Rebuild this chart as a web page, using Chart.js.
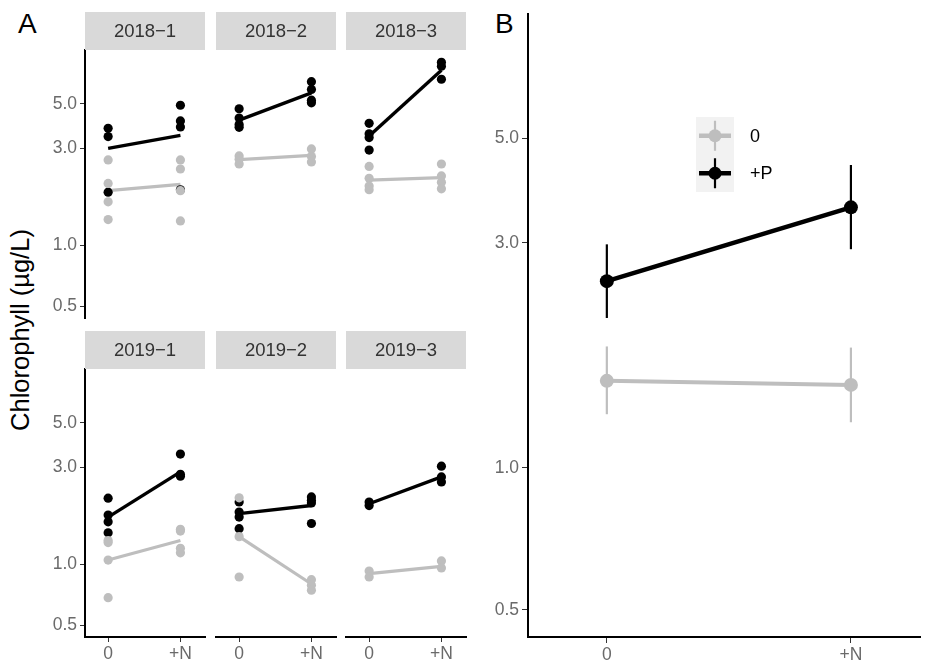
<!DOCTYPE html>
<html>
<head>
<meta charset="utf-8">
<script src="https://cdn.jsdelivr.net/npm/chart.js@4.4.1/dist/chart.umd.min.js"></script>
<style>
  html, body { margin: 0; padding: 0; background: #fff; }
  #wrap { position: relative; width: 927px; height: 663px; overflow: hidden;
          font-family: "Liberation Sans", Arial, sans-serif; }
  #wrap canvas { position: absolute; left: 0; top: 0; }
  .tag { position: absolute; font-size: 28px; line-height: 1; color: #000; }
  #ytitle { position: absolute; left: -180px; top: 315px; width: 400px; height: 30px;
            line-height: 30px; text-align: center; font-size: 25.5px; color: #000;
            transform: rotate(-90deg); }
</style>
</head>
<body>
<div id="wrap">
  <div class="tag" style="left:18px; top:10px;">A</div>
  <div class="tag" style="left:495px; top:10px;">B</div>
  <div id="ytitle">Chlorophyll (µg/L)</div>
</div>
<script>
// ---- data -------------------------------------------------------------
const facets   = ['2018−1', '2018−2', '2018−3', '2019−1', '2019−2', '2019−3'];
const nLevels  = ['0', '+N'];
const yTicks   = [0.5, 1, 3, 5];
const yTickLabels = ['0.5', '1.0', '3.0', '5.0'];

// replicate values per facet: [values at 0, values at +N]
const ctrlPts = [
  [[2.64, 2.02, 1.64, 1.34], [2.64, 2.38, 1.86, 1.32]],
  [[2.76, 2.66, 2.52],       [2.99, 2.74, 2.58]],
  [[2.45, 2.14, 1.96, 1.88], [2.52, 2.20, 2.05, 1.90]],
  [[1.31, 1.28, 1.05, 0.685],[1.49, 1.46, 1.20, 1.14]],
  [[2.13, 1.37, 0.866],      [0.84, 0.788, 0.745]],
  [[0.927, 0.866],           [1.04, 0.96]]
];
const plusPPts = [
  [[3.78, 3.44, 1.83],       [4.91, 4.11, 3.84, 1.88]],
  [[4.72, 4.25, 3.95, 3.82], [6.42, 5.88, 5.20, 5.05]],
  [[4.00, 3.55, 3.40, 2.95], [8.00, 7.65, 6.60]],
  [[2.12, 1.75, 1.62, 1.43], [3.50, 2.78, 2.72]],
  [[2.03, 1.81, 1.71, 1.50], [2.15, 2.07, 2.01, 1.59]],
  [[2.03, 1.95],             [3.05, 2.70, 2.55]]
];
// treatment means per facet: [0, +N]
const ctrlMean  = [[1.86, 2.00], [2.65, 2.78], [2.10, 2.16], [1.05, 1.31], [1.37, 0.80], [0.90, 0.977]];
const plusPMean = [[3.01, 3.49], [4.15, 5.65], [3.46, 7.30], [1.71, 2.86], [1.78, 1.95], [1.99, 2.70]];

// overall means with intervals
const pLevels  = ['0', '+P'];
const ctrlAll  = [1.53, 1.50];
const ctrlLow  = [1.30, 1.25];
const ctrlHigh = [1.81, 1.80];
const plusPAll  = [2.49, 3.57];
const plusPLow  = [2.08, 2.91];
const plusPHigh = [2.98, 4.39];

// ---- styling ------------------------------------------------------------
const BLACK = '#000000';
const GRAY  = '#BEBEBE';
const TICK_COLOR = '#6a6a6a';
const FONT = '"Liberation Sans", Arial, sans-serif';
const W = 927, H = 663;
const wrap = document.getElementById('wrap');

Chart.defaults.font.family = FONT;
Chart.defaults.animation = false;
Chart.defaults.plugins.legend.display = false;
Chart.defaults.plugins.tooltip.enabled = false;

function newCanvas() {
  const cv = document.createElement('canvas');
  cv.width = W; cv.height = H;
  wrap.appendChild(cv);
  return cv;
}

function fixedTicks(values) {
  return s => { s.ticks = values.map(v => ({ value: v })); };
}

function logAxis(show, width, tickLen) {
  return {
    type: 'logarithmic', min: 0.438, max: 9.2, display: show,
    afterBuildTicks: fixedTicks(yTicks),
    afterFit: s => { if (show) { s.width = width; s.paddingTop = 0; s.paddingBottom = 0; } },
    ticks: { callback: v => yTickLabels[yTicks.indexOf(v)], color: TICK_COLOR,
             font: { size: 17.5 }, padding: 3, autoSkip: false },
    grid: { display: true, drawOnChartArea: false, drawTicks: true, tickLength: tickLen,
            color: '#333', lineWidth: 1 },
    border: { display: true, color: '#000', width: 2 }
  };
}

function catAxis(show, min, max, height, tickLen) {
  return {
    type: 'linear', min: min, max: max, display: show,
    afterBuildTicks: fixedTicks(nLevels.map((_, k) => k + 1)),
    afterFit: s => { if (show) { s.height = height; s.paddingLeft = 0; s.paddingRight = 0; } },
    ticks: { callback: v => nLevels[v - 1], color: TICK_COLOR, font: { size: 17.5 },
             padding: 2, maxRotation: 0, autoSkip: false },
    grid: { display: true, drawOnChartArea: false, drawTicks: true, tickLength: tickLen,
            color: '#333', lineWidth: 1 },
    border: { display: true, color: '#000', width: 2 }
  };
}

// grey strip with the facet name above each panel
const stripPlugin = {
  id: 'strip',
  afterDraw(chart, args, opts) {
    const { ctx, chartArea: a } = chart;
    const h = 38;
    ctx.save();
    ctx.fillStyle = '#D9D9D9';
    ctx.fillRect(a.left, a.top - h, a.right - a.left, h);
    ctx.fillStyle = '#333333';
    ctx.font = '18.5px ' + FONT;
    ctx.textAlign = 'center';
    ctx.textBaseline = 'middle';
    ctx.fillText(opts.text, (a.left + a.right) / 2, a.top - h / 2 + 1);
    ctx.restore();
  }
};

// ---- panel A: one small chart per facet --------------------------------
const panelX = [[85, 205], [216, 336], [346, 466]];
const panelY = [[50, 318], [369, 637]];

function toPoints(groups) {
  return groups.flatMap((vals, k) => vals.map(v => ({ x: k + 1, y: v })));
}
function toLine(means) {
  return means.map((v, k) => ({ x: k + 1, y: v }));
}

facets.forEach((name, i) => {
  const r = Math.floor(i / 3), c = i % 3;
  const [L, R] = panelX[c];
  const [T, B] = panelY[r];
  const YW = 45, XH = 30;
  new Chart(newCanvas(), {
    type: 'scatter',
    data: {
      datasets: [
        { type: 'line', data: toLine(ctrlMean[i]), borderColor: GRAY, borderWidth: 3.2,
          pointRadius: 0, order: 4 },
        { type: 'line', data: toLine(plusPMean[i]), borderColor: BLACK, borderWidth: 3.4,
          pointRadius: 0, order: 3 },
        { data: toPoints(plusPPts[i]), backgroundColor: BLACK, borderWidth: 0,
          pointRadius: 4.6, order: 2 },
        { data: toPoints(ctrlPts[i]), backgroundColor: GRAY, borderWidth: 0,
          pointRadius: 4.6, order: 1 }
      ]
    },
    options: {
      responsive: false,
      layout: { padding: {
        left: c === 0 ? L - YW : L, right: W - R,
        top: T, bottom: r === 1 ? H - B - XH : H - B } },
      scales: {
        x: catAxis(r === 1, 0.68, 2.34, XH, 5),
        y: logAxis(c === 0, YW, 5)
      },
      plugins: { strip: { text: name } }
    },
    plugins: [stripPlugin]
  });
});

// ---- panel B: overall means with error bars -----------------------------
const errorBarPlugin = {
  id: 'errbars',
  beforeDatasetsDraw(chart) {
    const { ctx, scales: { x, y } } = chart;
    const series = [[ctrlLow, ctrlHigh, GRAY], [plusPLow, plusPHigh, BLACK]];
    ctx.save();
    ctx.lineWidth = 2.2;
    series.forEach(([lo, hi, col]) => {
      ctx.strokeStyle = col;
      lo.forEach((v, k) => {
        const px = x.getPixelForValue(k + 1);
        ctx.beginPath();
        ctx.moveTo(px, y.getPixelForValue(v));
        ctx.lineTo(px, y.getPixelForValue(hi[k]));
        ctx.stroke();
      });
    });
    ctx.restore();
  }
};

const keyPlugin = {
  id: 'keybox',
  afterDraw(chart) {
    const { ctx } = chart;
    const boxL = 696, boxT = 117, boxW = 38, rowH = 37.5;
    const cols = [GRAY, BLACK];
    ctx.save();
    ctx.fillStyle = '#F2F2F2';
    ctx.fillRect(boxL, boxT, boxW, rowH * pLevels.length);
    pLevels.forEach((lab, k) => {
      const cx = boxL + boxW / 2, cy = boxT + rowH * (k + 0.5);
      ctx.strokeStyle = cols[k];
      ctx.lineWidth = 4.5;
      ctx.beginPath(); ctx.moveTo(cx - 16, cy); ctx.lineTo(cx + 16, cy); ctx.stroke();
      ctx.lineWidth = 2.2;
      ctx.beginPath(); ctx.moveTo(cx, cy - 15); ctx.lineTo(cx, cy + 15); ctx.stroke();
      ctx.fillStyle = cols[k];
      ctx.beginPath(); ctx.arc(cx, cy, 6.5, 0, Math.PI * 2); ctx.fill();
      ctx.fillStyle = '#000';
      ctx.font = '18px ' + FONT;
      ctx.textAlign = 'left';
      ctx.textBaseline = 'middle';
      ctx.fillText(lab, boxL + boxW + 16, cy + 1);
    });
    ctx.restore();
  }
};

(function panelB() {
  const L = 528, T = 13.5, B = 637;
  const YW = 48, XH = 30;
  new Chart(newCanvas(), {
    type: 'line',
    data: {
      datasets: [
        { data: toLine(ctrlAll), borderColor: GRAY, backgroundColor: GRAY, borderWidth: 4,
          pointRadius: 7, pointBorderWidth: 0, order: 2 },
        { data: toLine(plusPAll), borderColor: BLACK, backgroundColor: BLACK, borderWidth: 4.6,
          pointRadius: 7, pointBorderWidth: 0, order: 1 }
      ]
    },
    options: {
      responsive: false,
      layout: { padding: { left: L - YW, right: 0, top: T, bottom: H - B - XH } },
      scales: {
        x: catAxis(true, 0.677, 2.283, XH, 6),
        y: logAxis(true, YW, 6)
      }
    },
    plugins: [errorBarPlugin, keyPlugin]
  });
})();
</script>
</body>
</html>
